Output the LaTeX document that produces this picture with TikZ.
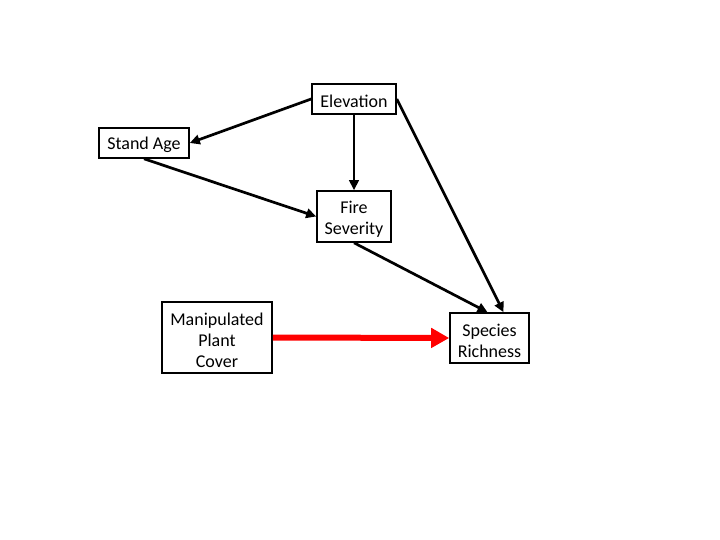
\documentclass[tikz,border=0pt]{standalone}
\usepackage{fontspec}
\setmainfont{Carlito}
\usetikzlibrary{arrows.meta}
\begin{document}
\begin{tikzpicture}[x=1bp,y=-1bp,
  box/.style={draw=black,line width=1.6bp,inner sep=0pt},
  txt/.style={inner sep=0pt,align=center,font=\fontsize{18bp}{21bp}\selectfont},
  link/.style={draw=black,line width=2.7bp,-{Triangle[length=10bp,width=9.5bp]}},
  redlink/.style={draw=red,line width=6bp,-{Triangle[length=18bp,width=19bp]}}]
\useasboundingbox (0,0) rectangle (720,540);
\node[box,minimum width=84bp,minimum height=30bp] (elev) at (354,99) {};
\node[box,minimum width=90bp,minimum height=30bp] (stand) at (144,143) {};
\node[box,minimum width=74bp,minimum height=51bp] (fire) at (354,216.5) {};
\node[box,minimum width=110bp,minimum height=71bp] (manip) at (217,337.5) {};
\node[box,minimum width=79bp,minimum height=50bp] (rich) at (489.5,338) {};
\node[txt] (elevT) at ([yshift=-2bp]elev.center) {Elevation};
\node[txt] (standT) at ([yshift=-2bp]stand.center) {Stand Age};
\node[txt] (fireT) at ([yshift=-2.5bp]fire.center) {Fire\\Severity};
\node[txt] (manipT) at ([yshift=-2.5bp]manip.center) {Manipulated\\Plant\\Cover};
\node[txt] (richT) at ([yshift=-2.5bp]rich.center) {Species\\Richness};
\draw[link] (elev.west) -- (stand.east);
\draw[link] (stand.south) -- (fire.west);
\draw[link] (elev.south) -- (fire.north);
\draw[link] (elev.east) -- ([xshift=14bp]rich.north);
\draw[link] (fire.south) -- ([xshift=-2bp]rich.north);
\draw[redlink] (manip.east) -- (rich.west);
\end{tikzpicture}
\end{document}
